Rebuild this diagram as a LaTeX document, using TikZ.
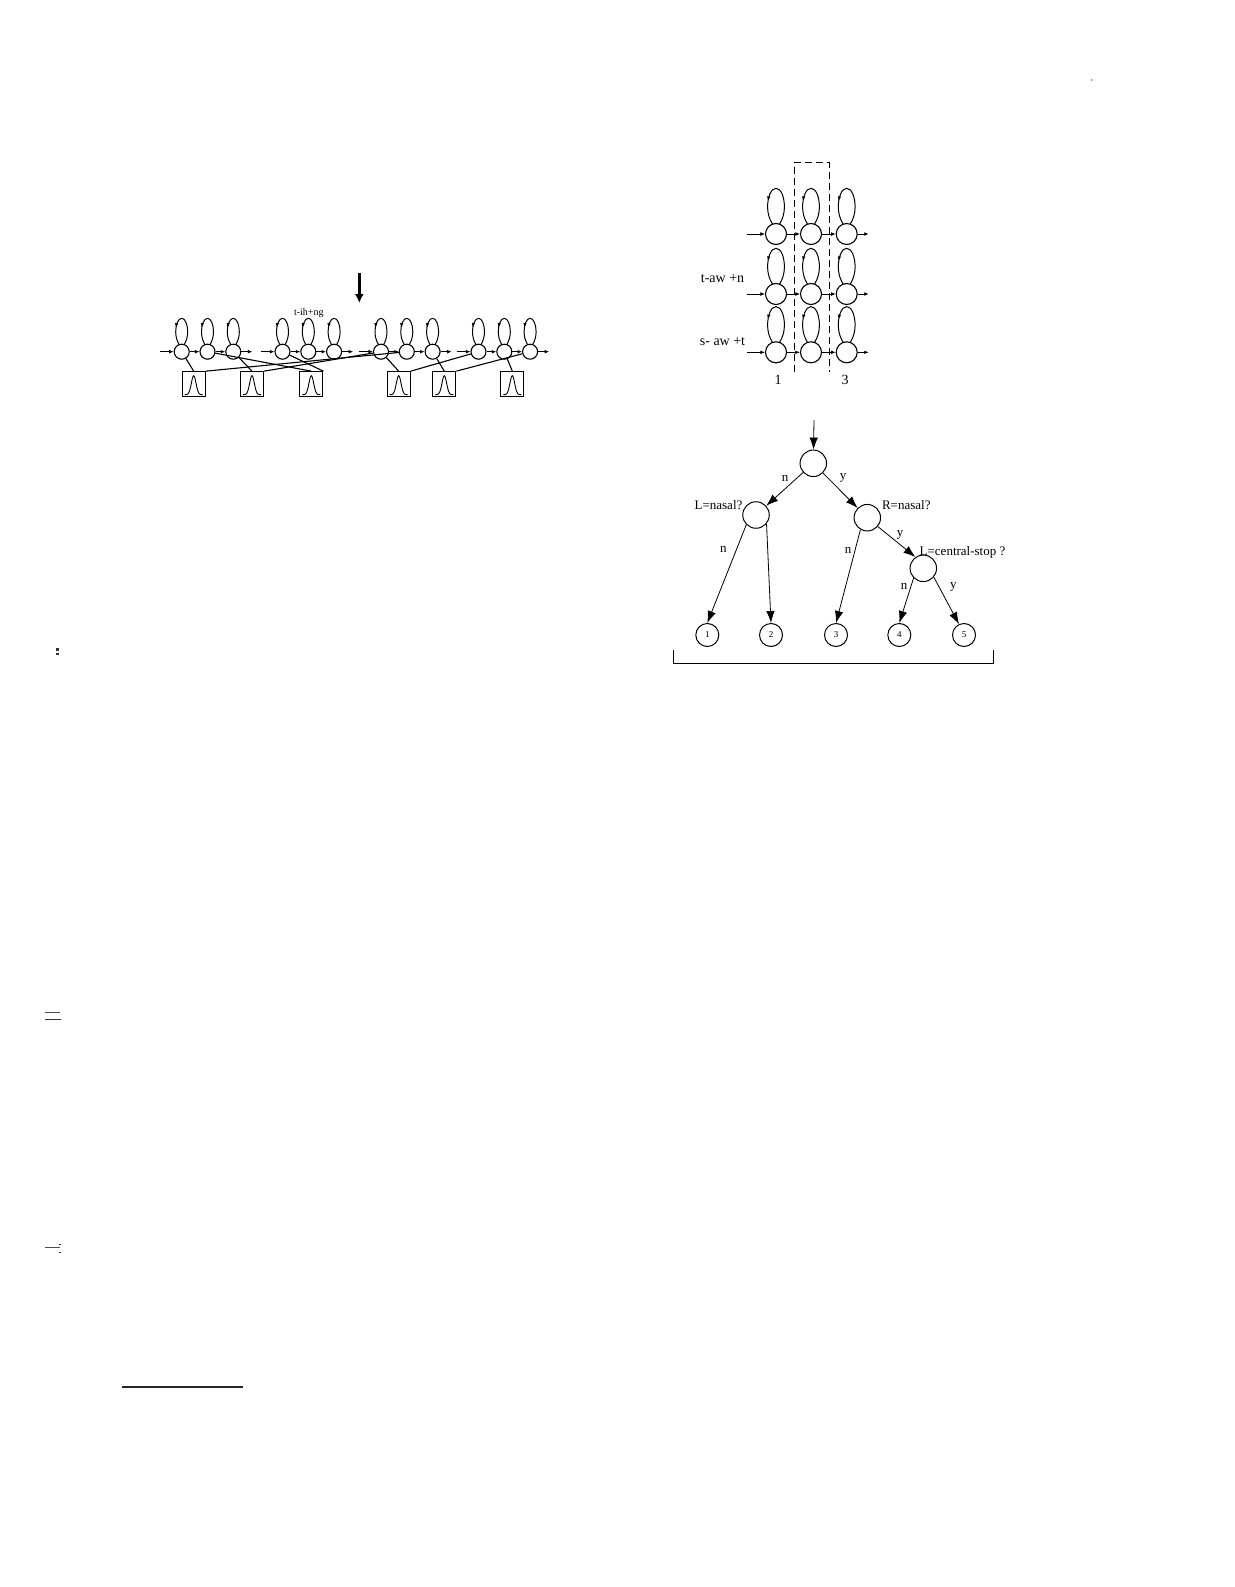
\documentclass[tikz,border=0pt]{standalone}
\usepackage{fontspec}
\setmainfont{Liberation Serif}
\usetikzlibrary{arrows.meta,decorations.markings}
\begin{document}
\begin{tikzpicture}[x=1pt,y=-1pt,
  hs/.style={circle,draw,line width=1.1pt,minimum size=15pt,inner sep=0pt},
  bs/.style={circle,draw,line width=1.1pt,minimum size=21pt,inner sep=0pt},
  tn/.style={circle,draw,line width=1pt,minimum size=26.5pt,inner sep=0pt},
  leaf/.style={circle,draw,line width=1pt,minimum size=23pt,inner sep=0pt,font=\fontsize{9}{10}\selectfont},
  gbox/.style={draw,line width=1.1pt,minimum width=23pt,minimum height=25pt,inner sep=0pt},
  sarr/.style={-{Latex[length=4.5pt,width=3.8pt]},line width=0.9pt},
  tarr/.style={-{Latex[length=12pt,width=8.5pt]},line width=0.8pt},
  tie/.style={line width=1.1pt},
  loopS/.style={line width=1pt,postaction={decorate},
    decoration={markings,mark=at position 0.7 with {\arrow{Latex[length=4.5pt,width=3.5pt]}}}},
  lab/.style={font=\fontsize{13}{15}\selectfont,inner sep=0pt},
  blab/.style={font=\fontsize{14}{16}\selectfont,inner sep=0pt},
  mrk/.style={fill=black!80,draw=none}
]
\useasboundingbox (0,0) rectangle (1234,1587);
\fill[white] (0,0) rectangle (1234,1587);

% ---------------- left: tied-state triphone HMMs ----------------
\foreach \g/\gx in {0/181.7,1/282.5,2/381,3/478.5} {
  \foreach \i in {0,1,2} {
    \pgfmathsetmacro\cx{\gx+25.8*\i}
    \pgfmathtruncatemacro\n{3*\g+\i+1}
    \node[hs] (c\n) at (\cx,351.7) {};
  }
}
\foreach \n in {1,...,12}
  \draw[loopS,shift={(c\n.center)}] (2.5,-7.1) .. controls (4.8,-11) and (6,-15) .. (6,-20)
     .. controls (6,-27) and (3.5,-33.4) .. (0,-33.4)
     .. controls (-3.5,-33.4) and (-6,-27) .. (-6,-20)
     .. controls (-6,-15) and (-4.8,-11) .. (-2.5,-7.1);
\foreach \a/\b in {1/2,2/3,4/5,5/6,7/8,8/9,10/11,11/12}
  \draw[sarr] (c\a) -- (c\b);
\foreach \n in {1,4,7,10} {
  \coordinate (in\n) at ([xshift=-22pt]c\n.center);
  \draw[sarr] (in\n) -- (c\n);
}
\foreach \n in {3,6,9,12} {
  \coordinate (out\n) at ([xshift=11pt]c\n.east);
  \draw[sarr] (c\n) -- (out\n);
}
\foreach \n/\bx in {1/193.7,2/252,3/311.3,4/398.7,5/444.3,6/512.3}
  \node[gbox] (b\n) at (\bx,384.2) {};
\foreach \n in {1,...,6} {
  \begin{scope}[shift={(b\n.center)}]
    \draw[line width=0.9pt] plot[domain=-9:9,samples=41,smooth] (\x,{10.5-19*exp(-(\x/3.3)^2)});
  \end{scope}
}
\draw[tie] (c1) -- (b1.north);
\draw[tie] (c2) -- (b3.north);
\draw[tie] (c3) -- (b2.north);
\draw[tie] (b1.north east) -- (c8);
\draw[tie] (b2.north east) -- (c7);
\draw[tie] (c4) -- (b3.north east);
\draw[tie] (c7) -- (b4.north);
\draw[tie] (c9) -- (b5.north);
\draw[tie] (b4.north east) -- (c10);
\draw[tie] (b5.north east) -- (c12);
\draw[tie] (c11) -- (b6.north);

\node[inner sep=0pt,font=\fontsize{10}{12}\selectfont] (tlab) at (308.8,313) {t-ih+ng};
\coordinate (ha1) at (359.3,273);
\coordinate (ha2) at (359.3,303);
\draw[line width=2.6pt,-{Latex[length=9pt,width=9pt]}] (ha1) -- (ha2);

% ---------------- right top: 3x3 states with dashed column ----------------
\foreach \r/\ry in {1/234,2/294,3/352.3} {
  \foreach \k/\kx in {1/776,2/811,3/846.7} {
    \node[bs] (s\r\k) at (\kx,\ry) {};
    \draw[loopS,shift={(s\r\k.center)}] (3.5,-9.9) .. controls (6.8,-15) and (8.4,-21) .. (8.4,-27)
       .. controls (8.4,-37) and (5,-45.7) .. (0,-45.7)
       .. controls (-5,-45.7) and (-8.4,-37) .. (-8.4,-27)
       .. controls (-8.4,-21) and (-6.8,-15) .. (-3.5,-9.9);
  }
  \coordinate (sin\r) at ([xshift=-29pt]s\r1.center);
  \coordinate (sout\r) at ([xshift=11pt]s\r3.east);
  \draw[sarr] (sin\r) -- (s\r1);
  \draw[sarr] (s\r1) -- (s\r2);
  \draw[sarr] (s\r2) -- (s\r3);
  \draw[sarr] (s\r3) -- (sout\r);
}
\coordinate (dr1) at (794.3,371.7);
\coordinate (dr2) at (794.3,162.7);
\coordinate (dr3) at (829,162.7);
\coordinate (dr4) at (829,371.7);
\draw[line width=1pt,dash pattern=on 7pt off 4pt] (dr1) -- (dr2) -- (dr3) -- (dr4);
\node[blab] (lta) at (722.5,278.3) {t-aw +n};
\node[blab] (lsa) at (722.5,341.7) {s- aw +t};
\node[blab] (n1) at (778,380) {1};
\node[blab] (n3) at (845,380) {3};

% ---------------- right bottom: decision tree ----------------
\node[tn] (root) at (813.3,463.3) {};
\node[tn] (Ln) at (756,515) {};
\node[tn] (Rn) at (867.3,517.7) {};
\node[tn] (Cn) at (923.3,568.3) {};
\node[leaf] (l1) at (707.3,635) {1};
\node[leaf] (l2) at (771,635) {2};
\node[leaf] (l3) at (836,635) {3};
\node[leaf] (l4) at (899.3,635) {4};
\node[leaf] (l5) at (964,635) {5};
\coordinate (top) at (814,420);
\draw[tarr] (top) -- (root);
\draw[tarr] (root) -- (Ln);
\draw[tarr] (root) -- (Rn);
\draw[tarr] (Ln.225) -- (l1.north);
\draw[tarr] (Ln.320) -- (l2.north);
\draw[tarr] (Rn.240) -- (l3.north);
\draw[tarr] (Rn.320) -- (Cn.125);
\draw[tarr] (Cn.225) -- (l4.north);
\draw[tarr] (Cn.320) -- (l5.115);
\node[lab] (e1) at (785,478) {n};
\node[lab] (e2) at (843,478) {y};
\node[lab] (q1) at (718.5,505) {L=nasal?};
\node[lab] (q2) at (906.3,505) {R=nasal?};
\node[lab] (e3) at (723.3,549) {n};
\node[lab] (e4) at (848,550.7) {n};
\node[lab] (e5) at (900,535) {y};
\node[lab] (q3) at (962.5,552.5) {L=central-stop ?};
\node[lab] (e6) at (904,586.7) {n};
\node[lab] (e7) at (953.3,586.7) {y};
\coordinate (br1) at (673.3,650);
\coordinate (br2) at (673.3,663.3);
\coordinate (br3) at (993.3,663.3);
\coordinate (br4) at (993.3,650);
\draw[line width=1pt] (br1) -- (br2) -- (br3) -- (br4);

% ---------------- page marks ----------------
\coordinate (fr1) at (122,1387);
\coordinate (fr2) at (243,1387);
\draw[line width=1.4pt,black!85] (fr1) -- (fr2);
\fill[mrk] (56,648) rectangle (59,650.5);
\fill[mrk] (56,652.5) rectangle (59,655);
\draw[line width=0.6pt,black!70] (45,1012.3) -- (60,1012.3);
\draw[line width=1.1pt,black!80] (45,1019.5) -- (61,1019.5);
\draw[line width=0.6pt,black!70] (45,1247.7) -- (60,1247.7);
\fill[mrk] (58.5,1243.5) rectangle (60.5,1245);
\fill[mrk] (58.5,1251.5) rectangle (60.5,1253);
\fill[black!60] (1091.7,80) circle (0.8);
\end{tikzpicture}
\end{document}
